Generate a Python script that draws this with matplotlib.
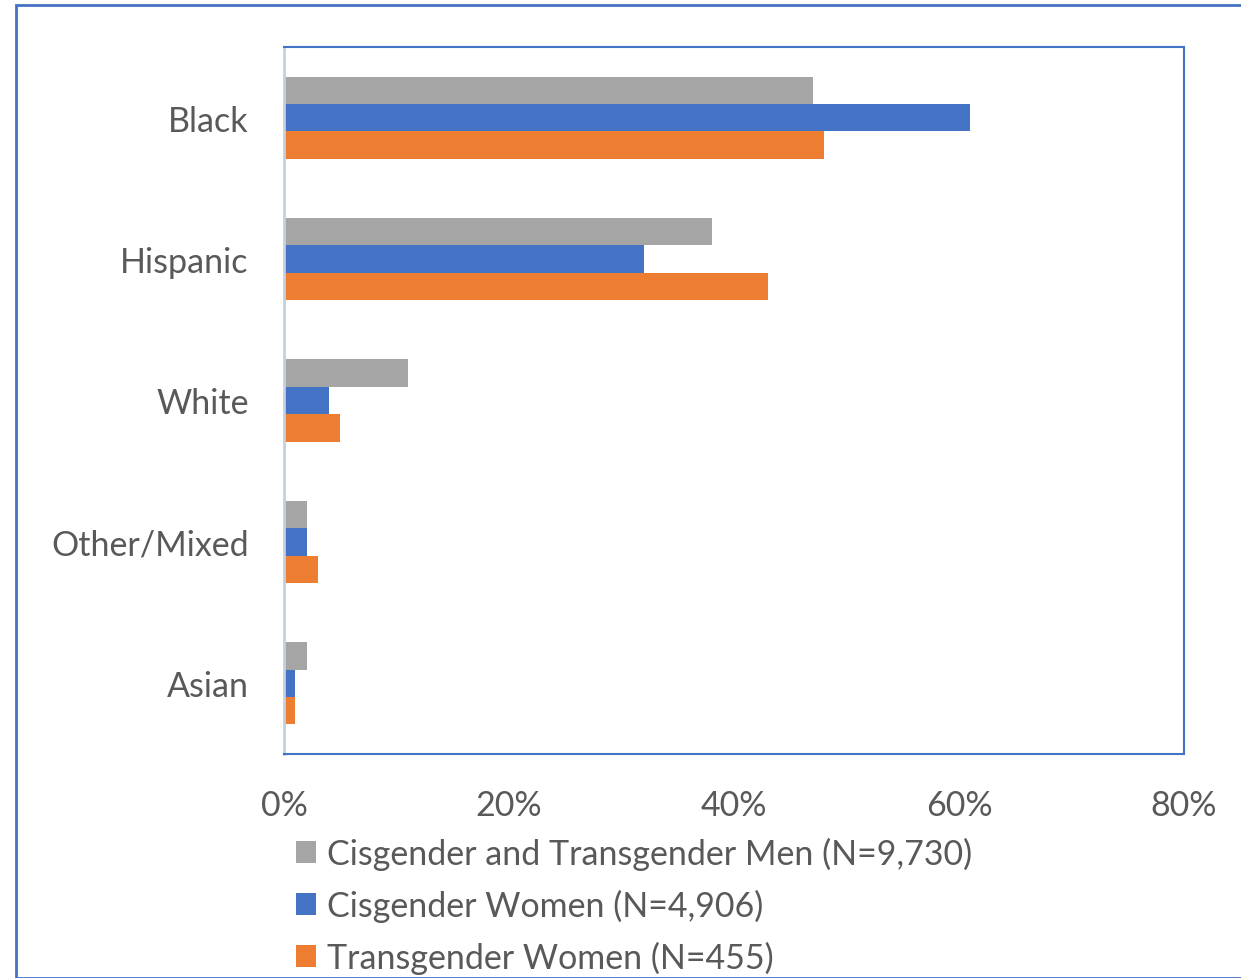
import matplotlib.pyplot as plt
import numpy as np
from matplotlib.patches import Rectangle

categories = ["Black", "Hispanic", "White", "Other/Mixed", "Asian"]
series_names = [
    "Cisgender and Transgender Men (N=9,730)",
    "Cisgender Women (N=4,906)",
    "Transgender Women (N=455)",
]
men = [47, 38, 11, 2, 2]
cis_women = [61, 32, 4, 2, 1]
trans_women = [48, 43, 5, 3, 1]
x_ticks = [0, 20, 40, 60, 80]

colors = ["#a5a5a5", "#4472c4", "#ed7d31"]
text_color = "#595959"
plt.rcParams["font.family"] = ["Lato", "DejaVu Sans"]

W, H = 1241, 979
fig = plt.figure(figsize=(W / 100, H / 100), dpi=100)
ax = fig.add_axes([284 / W, 1 - 755 / H, 900 / W, 707 / H])

y = np.arange(len(categories))
h = 0.194
for i, (vals, c, name) in enumerate(zip([men, cis_women, trans_women], colors, series_names)):
    ax.barh(y + (i - 1) * h, vals, height=h, color=c, label=name)

ax.set_xlim(0, 80)
ax.set_ylim(len(categories) - 0.5, -0.5)
ax.set_yticks(y)
ax.set_yticklabels(categories)
ax.set_xticks(x_ticks)
ax.set_xticklabels([f"{t}%" for t in x_ticks])
ax.tick_params(axis="both", length=0, labelsize=24.5, colors=text_color)
ax.tick_params(axis="y", pad=25.5)
ax.tick_params(axis="x", pad=25)

for side in ["top", "right", "bottom"]:
    ax.spines[side].set_color("#4472c4")
    ax.spines[side].set_linewidth(1.5)
ax.spines["left"].set_color("#c5cfe0")
ax.spines["left"].set_linewidth(2)

leg = fig.legend(
    loc="upper left",
    bbox_to_anchor=(296 / W, 1 - 838 / H),
    frameon=False,
    fontsize=24.5,
    handlelength=0.6,
    handleheight=0.6,
    handletextpad=0.3,
    labelspacing=0.55,
    borderpad=0,
    borderaxespad=0,
)
for t in leg.get_texts():
    t.set_color(text_color)

fig.patches.append(
    Rectangle((16 / W, 0), 1.2, 1 - 6 / H, transform=fig.transFigure,
              fill=False, edgecolor="#4472c4", linewidth=2, clip_on=False)
)

fig.savefig("out.png", dpi=100)
